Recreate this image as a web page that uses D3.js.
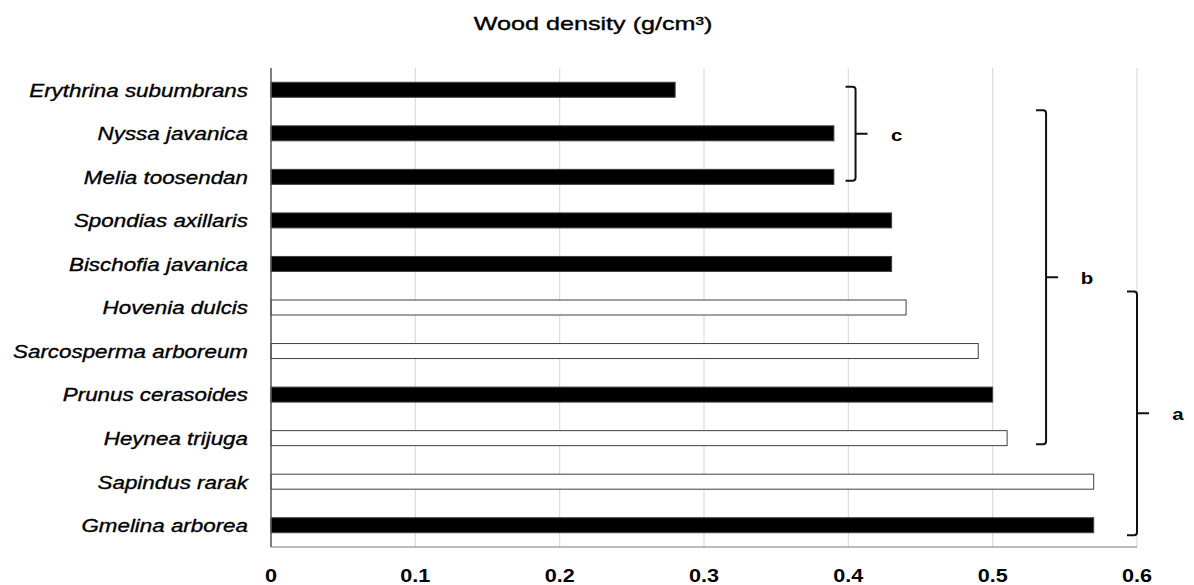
<!DOCTYPE html>
<html>
<head>
<meta charset="utf-8">
<script src="https://cdn.jsdelivr.net/npm/d3@7"></script>
<style>
  body { margin: 0; background: #fff; }
  svg { display: block; font-family: "Liberation Sans", Arial, sans-serif; }
  .heavy { stroke: #000; stroke-width: 0.35px; }
</style>
</head>
<body>
<div id="chart"></div>
<script>
// species, top to bottom
var species = ["Erythrina subumbrans", "Nyssa javanica", "Melia toosendan", "Spondias axillaris",
  "Bischofia javanica", "Hovenia dulcis", "Sarcosperma arboreum", "Prunus cerasoides",
  "Heynea trijuga", "Sapindus rarak", "Gmelina arborea"];
var density = [0.28, 0.39, 0.39, 0.43, 0.43, 0.44, 0.49, 0.50, 0.51, 0.57, 0.57];
// true = black filled bar, false = white bar
var filled = [true, true, true, true, true, false, false, true, false, false, true];
var xTicks = [0, 0.1, 0.2, 0.3, 0.4, 0.5, 0.6];

// homogeneous groups (brackets)
var groupLabels = ["c", "b", "a"];
var groupFrom = ["Erythrina subumbrans", "Nyssa javanica", "Hovenia dulcis"];
var groupTo = ["Melia toosendan", "Heynea trijuga", "Gmelina arborea"];
var groupAt = [0.405, 0.537, 0.6];

var W = 1194, H = 585;
var margin = {top: 68, right: 57, bottom: 38, left: 271};
var width = W - margin.left - margin.right,
    height = H - margin.top - margin.bottom;

var svg = d3.select("#chart").append("svg")
    .attr("width", W).attr("height", H);
var g = svg.append("g")
    .attr("transform", "translate(" + margin.left + "," + margin.top + ")");

var x = d3.scaleLinear().domain([0, 0.6]).range([0, 866]);
var y = d3.scaleBand().domain(species).range([0, height]).paddingInner(0).paddingOuter(0);
var barH = 15;

// gridlines
g.selectAll(".grid").data(xTicks.slice(1)).enter().append("line")
    .attr("x1", function(d) { return x(d); })
    .attr("x2", function(d) { return x(d); })
    .attr("y1", 0).attr("y2", height)
    .style("stroke", "#dcdcdc").style("stroke-width", 1.2);

// bars
var data = species.map(function(s, i) { return {name: s, value: density[i], filled: filled[i]}; });
g.selectAll(".bar").data(data).enter().append("rect")
    .attr("x", 0)
    .attr("y", function(d) { return y(d.name) + y.bandwidth() / 2 - barH / 2; })
    .attr("width", function(d) { return x(d.value); })
    .attr("height", barH)
    .style("fill", function(d) { return d.filled ? "#000" : "#fff"; })
    .style("stroke", "#404040")
    .style("stroke-width", 1);

// axis lines
g.append("line").attr("x1", 0).attr("x2", 0).attr("y1", 0).attr("y2", height)
    .style("stroke", "#555").style("stroke-width", 1.5);
g.append("line").attr("x1", 0).attr("x2", x(0.6)).attr("y1", height).attr("y2", height)
    .style("stroke", "#777").style("stroke-width", 1.2);

// x tick labels (source text is a bit stretched horizontally)
g.selectAll(".xt").data(xTicks).enter().append("text")
    .attr("transform", function(d) { return "translate(" + x(d) + "," + (height + 35) + ") scale(1.2,1)"; })
    .attr("text-anchor", "middle")
    .style("font-size", "18px").style("font-weight", "bold")
    .text(function(d) { return d === 0 ? "0" : d3.format(".1f")(d); });

// species labels
g.selectAll(".yl").data(species).enter().append("text")
    .attr("class", "heavy")
    .attr("transform", function(d) { return "translate(-23," + (y(d) + y.bandwidth() / 2) + ") scale(1.21,1)"; })
    .attr("dy", "0.37em")
    .attr("text-anchor", "end")
    .style("font-size", "18.5px").style("font-style", "italic")
    .text(function(d) { return d; });

// title
svg.append("text")
    .attr("class", "heavy")
    .attr("transform", "translate(593,30) scale(1.36,1)")
    .attr("text-anchor", "middle")
    .style("font-size", "18.5px")
    .text("Wood density (g/cm\u00b3)");

// brackets
var tops = [-3, -23, -16], bottoms = [4, 6, 10];
groupLabels.forEach(function(lab, i) {
  var bx = x(groupAt[i]);
  var y0 = y(groupFrom[i]) + y.bandwidth() / 2 + tops[i];
  var y1 = y(groupTo[i]) + y.bandwidth() / 2 + bottoms[i];
  var ym = (y0 + y1) / 2;
  var r = 3;
  var p = "M" + (bx - 10) + "," + y0 + " L" + (bx - r) + "," + y0 +
          " Q" + bx + "," + y0 + " " + bx + "," + (y0 + r) +
          " L" + bx + "," + (y1 - r) +
          " Q" + bx + "," + y1 + " " + (bx - r) + "," + y1 +
          " L" + (bx - 10) + "," + y1 +
          " M" + bx + "," + ym + " L" + (bx + 12) + "," + ym;
  g.append("path").attr("d", p)
      .style("fill", "none").style("stroke", "#111").style("stroke-width", 2);
  g.append("text")
      .attr("transform", "translate(" + (bx + 41) + "," + (ym + 1) + ") scale(1.2,1)")
      .attr("dy", "0.35em")
      .attr("text-anchor", "middle")
      .style("font-size", "17px").style("font-weight", "bold")
      .text(lab);
});
</script>
</body>
</html>
